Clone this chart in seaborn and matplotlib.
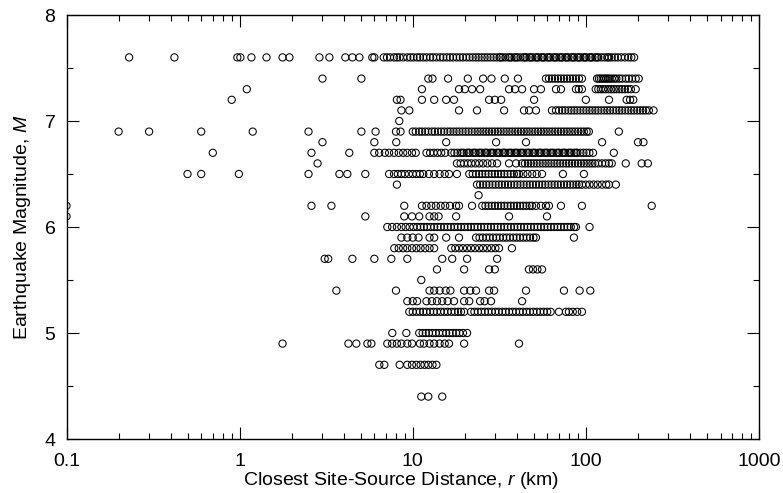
import numpy as np
import pandas as pd
import matplotlib
matplotlib.use("Agg")
import matplotlib.pyplot as plt
import seaborn as sns
from matplotlib.ticker import LogLocator, NullFormatter, MultipleLocator

# ---- data: closest site-source distance r (km) per magnitude row ----
r_M76 = [0.23, 0.42, 0.97, 1.01, 1.17, 1.43, 1.77, 1.94, 2.89, 3.30, 4.08, 4.48, 4.92, 5.84, 6.0,
         6.8, 7.1, 7.4, 7.8, 8.1, 8.4, 8.8, 9.3, 9.7, 10.1, 10.6, 11.0, 11.5, 12.0, 12.6, 13.1, 13.7,
         14.4, 15.0, 15.7, 16.4, 17.1, 17.9, 18.7, 19.5, 20.4, 21.3, 22.2, 23.1, 24.0, 25.0, 26.0,
         27.0, 28.1, 29.3, 30.5, 31.7, 32.2, 33.0, 34.3, 35.7, 36.4, 37.2, 38.7, 39.5, 40.3, 41.9,
         43.6, 44.5, 45.4, 47.2, 48.1, 49.1, 51.1, 52.1, 53.2, 55.4, 56.5, 57.6, 60.0, 61.2, 62.4,
         65.0, 66.3, 67.6, 70.3, 71.8, 73.2, 76.2, 77.7, 79.3, 82.5, 84.1, 85.8, 89.3, 91.1, 93.0,
         96.8, 98.7, 100.7, 104.8, 106.9, 109, 113.5, 115.8, 118, 123, 128, 133, 136, 141, 147,
         153, 160, 168, 176, 183, 190]
r_M74 = [3.01, 5.05, 12.3, 13.0, 16.0, 20.8, 25.5, 28.5, 34.0, 40.5, 58.8, 61.2, 63.7, 66.3, 69.0,
         71.8, 74.7, 77.7, 80.9, 84.1, 87.6, 91.2, 94.9, 116, 119, 122, 125, 128, 131, 134, 137,
         141, 146, 150, 156, 162, 170, 177, 185, 194, 202]
r_M73 = [1.10, 11.3, 18.5, 20.0, 22.0, 24.5, 36.0, 39.0, 42.8, 50.2, 55.0, 67.2, 71.8, 87.6, 91.0,
         94.9, 114, 118, 122, 126, 130, 135, 140, 145, 150, 156, 162, 168, 175, 182, 194]
r_M72 = [0.90, 8.1, 8.5, 11.3, 13.3, 15.6, 17.3, 27.6, 29.8, 32.4, 50.2, 100, 136, 172, 180, 188]
r_M71 = [8.6, 9.55, 18.5, 23.5, 33.7, 43.9, 47.0, 51.5, 63.7, 67.2, 70.0, 73.0, 76.0, 79.3, 82.5,
         85.8, 89.3, 93.0, 96.8, 100.7, 105, 109, 113.5, 118, 123, 128, 133, 138, 144, 150, 156,
         162, 169, 176, 183, 190, 198, 206, 214, 222, 231, 246]
r_M70 = [8.36]
r_M69 = [0.20, 0.30, 0.60, 1.19, 2.50, 5.05, 6.1, 8.0, 8.5, 10.0, 10.4, 10.9, 11.3, 11.8, 12.3,
         12.9, 13.4, 14.0, 14.6, 15.2, 15.9, 16.5, 17.2, 17.9, 18.6, 19.4, 20.2, 21.0, 21.9, 22.8,
         23.7, 24.6, 25.6, 26.6, 27.6, 28.7, 29.8, 31.0, 32.2, 33.5, 34.8, 36.2, 37.6, 39.1, 40.6,
         42.2, 43.8, 45.5, 47.2, 49.1, 51.0, 53.0, 55.0, 57.1, 59.3, 61.6, 64.0, 66.5, 69.1, 71.8,
         74.6, 77.5, 80.5, 83.6, 86.8, 90.2, 93.7, 97.3, 101, 104, 155]
r_M68 = [3.01, 6.0, 8.03, 15.6, 30.3, 45.1, 124, 200, 215]
r_M67 = [0.70, 2.6, 4.3, 6.0, 6.4, 6.9, 7.3, 7.8, 8.3, 8.8, 9.3, 9.9, 10.4, 12.0, 12.6, 13.2, 13.9,
         14.6, 15.4, 16.7, 17.4, 18.1, 18.9, 19.3, 19.7, 20.5, 21.0, 21.3, 22.2, 22.7, 23.1, 24.0,
         24.5, 25.0, 26.0, 26.5, 27.0, 28.1, 28.7, 29.3, 30.5, 31.1, 31.7, 33.0, 33.7, 34.3, 35.7,
         36.5, 37.2, 38.7, 39.5, 40.3, 41.9, 42.7, 43.6, 45.4, 46.3, 47.2, 49.1, 50.1, 51.1, 53.2,
         54.3, 55.4, 57.6, 58.8, 60.0, 62.4, 63.7, 65.0, 67.6, 69.0, 70.3, 73.2, 74.7, 76.2, 79.3,
         80.9, 82.5, 85.8, 87.6, 89.3, 93.0, 96.8, 100.7, 104.8, 110, 145]
r_M66 = [2.82, 18.0, 18.9, 19.8, 20.8, 21.8, 23.0, 24.2, 25.5, 27.0, 28.7, 30.7, 36.0, 39.5, 42.8,
         44.5, 46.3, 48.1, 50.0, 52.0, 54.1, 56.3, 58.5, 60.8, 63.2, 65.8, 68.4, 71.1, 74.0, 77.0,
         80.0, 83.2, 86.5, 90.0, 93.6, 97.3, 101, 105, 109, 113, 118, 124, 130, 136, 141, 170, 210,
         228]
r_M65 = [0.50, 0.60, 0.99, 2.50, 3.77, 4.19, 5.32, 7.3, 7.8, 8.2, 8.6, 9.0, 9.5, 10.0, 10.5, 11.0,
         11.5, 12.4, 13.3, 14.3, 15.3, 16.2, 18.0, 21.2, 22.2, 23.2, 24.2, 25.2, 26.3, 27.4, 28.6,
         29.8, 31.1, 32.4, 33.8, 35.3, 36.8, 38.4, 40.0, 41.1, 43.5, 46.0, 49.0, 52.0, 55.8, 73.7,
         97.4]
r_M64 = [8.1, 23.5, 24.5, 25.5, 26.6, 27.7, 28.9, 30.1, 31.4, 32.7, 34.1, 35.5, 37.0, 38.6, 40.2,
         41.9, 43.7, 45.5, 47.4, 49.4, 51.5, 53.7, 56.0, 58.3, 60.8, 63.4, 66.0, 68.8, 71.7, 74.8,
         77.9, 81.2, 84.6, 88.2, 91.2, 95, 100, 105, 111, 117, 124, 131, 136, 149]
r_M63 = [24.0]
r_M62 = [0.10, 2.6, 3.39, 8.93, 11.3, 12.0, 12.8, 13.6, 14.5, 15.4, 16.4, 17.8, 18.5, 22.0, 25.2,
         26.3, 27.4, 28.6, 29.8, 31.1, 32.4, 33.8, 35.3, 36.8, 38.4, 40.0, 41.7, 43.5, 45.4, 47.3,
         48.9, 51.5, 55.0, 58.8, 61.2, 71.8, 94.9, 240]
r_M61 = [0.10, 5.32, 8.93, 9.9, 10.9, 12.5, 13.3, 14.1, 17.8, 36.0, 59.6]
r_M60 = [7.13, 7.6, 8.1, 8.6, 9.1, 9.6, 10.1, 10.6, 11.1, 11.6, 12.1, 12.7, 13.3, 13.9, 14.5, 15.2,
         15.9, 16.6, 17.4, 18.2, 19.0, 19.9, 20.8, 21.7, 22.7, 23.7, 24.8, 25.9, 27.1, 28.3, 29.6,
         30.9, 32.3, 33.8, 35.3, 36.9, 38.6, 40.3, 42.1, 44.0, 46.0, 48.1, 50.3, 52.6, 55.0, 57.5,
         60.1, 62.8, 65.6, 68.6, 71.7, 74.9, 78.3, 81.8, 85.5, 87.6, 105]
r_M59 = [8.6, 9.3, 10.0, 10.8, 12.5, 13.3, 15.6, 18.5, 23.2, 24.3, 25.4, 26.6, 27.8, 29.1, 30.4,
         31.8, 33.3, 34.8, 36.4, 38.1, 39.8, 41.6, 43.5, 45.5, 47.6, 49.8, 51.5, 85.3]
r_M58 = [7.82, 8.3, 8.8, 9.3, 9.9, 10.5, 11.1, 11.8, 12.5, 13.3, 16.7, 17.6, 18.5, 19.5, 20.6, 21.7,
         22.9, 24.2, 25.5, 26.9, 28.4, 30.0, 31.5, 37.4]
r_M57 = [3.1, 3.25, 4.48, 6.0, 7.52, 9.3, 14.8, 16.9, 20.6, 30.7]
r_M56 = [13.8, 19.8, 27.6, 29.8, 46.9, 49.5, 52.5, 55.8]
r_M55 = [11.2]
r_M54 = [3.62, 8.0, 12.5, 13.3, 14.3, 15.5, 16.5, 19.8, 21.5, 23.2, 27.6, 29.5, 45.1, 74.7, 92.0, 106]
r_M53 = [9.3, 10.0, 10.6, 12.0, 12.9, 13.8, 14.8, 15.9, 17.3, 19.8, 21.2, 24.5, 26.0, 28.3, 42.8]
r_M52 = [9.55, 10.0, 10.5, 11.0, 11.5, 12.0, 12.6, 13.2, 13.8, 14.5, 15.2, 15.9, 16.7, 17.5, 18.3,
         19.0, 19.8, 21.7, 22.7, 23.8, 24.9, 26.1, 27.3, 28.6, 30.0, 31.4, 32.9, 34.4, 36.0, 37.7,
         39.5, 41.4, 43.3, 45.4, 47.5, 49.7, 52.1, 54.5, 57.1, 59.8, 62.6, 69.9, 76.7, 79.8, 84.0,
         89.0, 94.9]
r_M50 = [7.62, 9.18, 10.9, 11.4, 11.9, 12.4, 13.0, 13.6, 14.2, 14.9, 15.6, 16.3, 17.0, 17.8, 18.6,
         19.5, 20.6]
r_M49 = [1.77, 4.25, 4.72, 5.47, 5.77, 7.13, 7.6, 8.1, 8.6, 9.3, 9.9, 11.0, 11.6, 12.5, 13.3, 14.3,
         15.3, 16.2, 19.8, 41.1]
r_M47 = [6.41, 6.85, 8.4, 9.3, 9.9, 10.5, 11.1, 11.7, 12.3, 13.0, 13.7]
r_M44 = [11.2, 12.3, 14.8]

magnitudes = [7.6, 7.4, 7.3, 7.2, 7.1, 7.0, 6.9, 6.8, 6.7, 6.6, 6.5, 6.4, 6.3, 6.2, 6.1, 6.0,
              5.9, 5.8, 5.7, 5.6, 5.5, 5.4, 5.3, 5.2, 5.0, 4.9, 4.7, 4.4]
distance_rows = [r_M76, r_M74, r_M73, r_M72, r_M71, r_M70, r_M69, r_M68, r_M67, r_M66, r_M65,
                 r_M64, r_M63, r_M62, r_M61, r_M60, r_M59, r_M58, r_M57, r_M56, r_M55, r_M54,
                 r_M53, r_M52, r_M50, r_M49, r_M47, r_M44]

x_ticks = [0.1, 1, 10, 100, 1000]
x_tick_labels = ["0.1", "1", "10", "100", "1000"]
y_ticks = [4, 5, 6, 7, 8]
y_tick_labels = ["4", "5", "6", "7", "8"]

rs, ms = [], []
for m, row in zip(magnitudes, distance_rows):
    rs.extend(row)
    ms.extend([m] * len(row))
df = pd.DataFrame({"r": rs, "M": ms})

# ---- style ----
sns.set_theme(style="ticks")
plt.rcParams["font.family"] = ["Liberation Sans", "DejaVu Sans"]
plt.rcParams["mathtext.fontset"] = "custom"
plt.rcParams["mathtext.it"] = "Liberation Sans:italic"
plt.rcParams["mathtext.rm"] = "Liberation Sans"

W, H = 783, 493
fig = plt.figure(figsize=(W / 100, H / 100), dpi=100)
L, R, T, B = 66.5, 759, 15, 439
ax = fig.add_axes([L / W, 1 - B / H, (R - L) / W, (B - T) / H])

sns.scatterplot(data=df, x="r", y="M", ax=ax, marker="o", s=27,
                facecolor="none", edgecolor="black", linewidth=0.75, legend=False)

ax.set_xscale("log")
ax.set_xlim(0.1, 1000)
ax.set_ylim(4, 8)
ax.set_xticks(x_ticks)
ax.set_xticklabels(x_tick_labels)
ax.xaxis.set_minor_locator(LogLocator(base=10, subs=np.arange(2, 10)))
ax.xaxis.set_minor_formatter(NullFormatter())
ax.set_yticks(y_ticks)
ax.set_yticklabels(y_tick_labels)
ax.yaxis.set_minor_locator(MultipleLocator(0.5))

for s in ax.spines.values():
    s.set_linewidth(1.0)
    s.set_color("black")
ax.tick_params(which="both", direction="in", top=True, right=True, width=0.8, colors="black")
ax.tick_params(which="major", length=8.5, labelsize=14)
ax.tick_params(which="minor", length=4.5)
ax.tick_params(axis="x", which="major", pad=10)
ax.tick_params(axis="y", which="major", pad=8)

ax.set_xlabel("Closest Site-Source Distance, $r$ (km)", fontsize=14, color="black")
ax.set_ylabel("Earthquake Magnitude, $M$", fontsize=14, color="black")
ax.xaxis.set_label_coords(0.483, -0.074)
ax.yaxis.set_label_coords(-0.049, 0.5)
ax.grid(False)

fig.savefig("out.png", dpi=100)
